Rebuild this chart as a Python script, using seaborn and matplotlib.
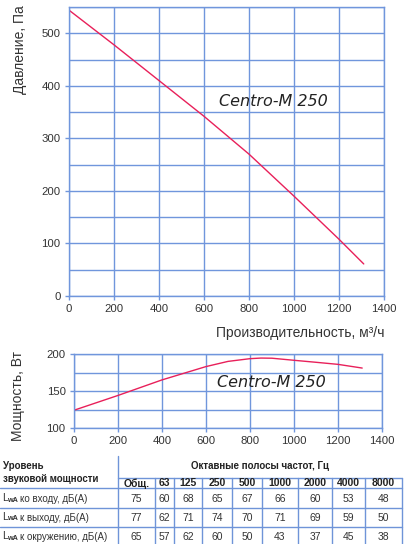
import numpy as np
import pandas as pd
import seaborn as sns
import matplotlib
matplotlib.use("Agg")
import matplotlib.pyplot as plt
from matplotlib.lines import Line2D

# ---------------- data ----------------
flow_p = [0, 200, 400, 600, 800, 1000, 1200, 1310]
pressure = [544, 478, 410, 342, 270, 190, 108, 61]

flow_w = [0, 200, 400, 600, 700, 800, 850, 900, 1000, 1100, 1200, 1310]
power = [124, 144, 165, 183, 190, 193.7, 194.5, 194.3, 191.5, 188.8, 186, 181]

model_name = "Centro-M 250"
x_label = "Производительность, м³/ч"
y_label_p = "Давление, Па"
y_label_w = "Мощность, Вт"

tbl_head_left = ["Уровень", "звуковой мощности"]
tbl_head_top = "Октавные полосы частот, Гц"
freq_labels = ["Общ.", "63", "125", "250", "500", "1000", "2000", "4000", "8000"]
row_labels = ["ко входу, дБ(А)", "к выходу, дБ(А)", "к окружению, дБ(А)"]
row_inlet = [75, 60, 68, 65, 67, 66, 60, 53, 48]
row_outlet = [77, 62, 71, 74, 70, 71, 69, 59, 50]
row_surround = [65, 57, 62, 60, 50, 43, 37, 45, 38]

# ---------------- style ----------------
sns.set_theme(style="white")
plt.rcParams["font.family"] = ["Liberation Sans", "DejaVu Sans"]

GRID = "#7096dc"
LINE = "#e8205a"
TXT = "#333333"

W, H = 409, 544
fig = plt.figure(figsize=(W / 100, H / 100), dpi=100)


def px_axes(left, top, right, bottom):
    return fig.add_axes([left / W, 1 - bottom / H, (right - left) / W, (bottom - top) / H])


def style_axes(ax, xmaj, ymaj, ymin_step):
    ax.set_xticks(xmaj)
    ax.set_yticks(ymaj)
    ax.set_yticks(ymin_step, minor=True)
    ax.grid(True, which="both", color=GRID, linewidth=1.0)
    ax.set_axisbelow(True)
    for s in ax.spines.values():
        s.set_color(GRID)
        s.set_linewidth(1.0)
    ax.tick_params(axis="both", which="major", length=3, width=1.0, color=GRID,
                   labelsize=8.2, labelcolor=TXT, pad=3, direction="out",
                   bottom=True, left=True)
    ax.tick_params(axis="both", which="minor", length=0)
    ax.set_xlabel("")
    ax.set_ylabel("")


# ---------------- top chart: pressure ----------------
ax1 = px_axes(69, 7, 384, 296)
dfp = pd.DataFrame({"flow": flow_p, "p": pressure})
sns.lineplot(data=dfp, x="flow", y="p", ax=ax1, color=LINE, linewidth=1.0)
ax1.set_xlim(0, 1400)
ax1.set_ylim(0, 550)
style_axes(ax1, np.arange(0, 1401, 200), np.arange(0, 501, 100), np.arange(50, 551, 100))
ax1.text(667, 370, model_name, fontsize=11.5, style="italic", color="#222222",
         family=["DejaVu Sans"], ha="left", va="center")

fig.text(384 / W, 1 - 333 / H, x_label, ha="right", va="center", fontsize=10, color=TXT)
fig.text(20 / W, 1 - 5 / H, y_label_p, ha="center", va="top", rotation=90, fontsize=10, color=TXT)

# ---------------- bottom chart: power ----------------
ax2 = px_axes(74, 354, 382, 428)
dfw = pd.DataFrame({"flow": flow_w, "w": power})
sns.lineplot(data=dfw, x="flow", y="w", ax=ax2, color=LINE, linewidth=1.0)
ax2.set_xlim(0, 1400)
ax2.set_ylim(100, 200)
style_axes(ax2, np.arange(0, 1401, 200), [100, 150, 200], [125, 175])
ax2.text(650, 162, model_name, fontsize=11.5, style="italic", color="#222222",
         family=["DejaVu Sans"], ha="left", va="center")
fig.text(18 / W, 1 - 396 / H, y_label_w, ha="center", va="center", rotation=90, fontsize=10, color=TXT)

# ---------------- table ----------------
axt = fig.add_axes([0, 0, 1, 1])
axt.set_xlim(0, W)
axt.set_ylim(H, 0)
axt.axis("off")
axt.patch.set_alpha(0)

cols = [118, 155, 174, 202, 232, 262, 298, 332, 365, 402]
TL = "#6f94d8"
axt.add_line(Line2D([118, 118], [456, 544], color=TL, lw=1.0))
for c in cols[1:]:
    axt.add_line(Line2D([c, c], [478, 544], color=TL, lw=1.0))
axt.add_line(Line2D([118, 402], [478, 478], color=TL, lw=1.0))
for yy in [488, 508, 527]:
    axt.add_line(Line2D([0, 402], [yy, yy], color=TL, lw=1.0))

axt.text(3, 466, tbl_head_left[0], fontsize=7, fontweight="bold", color="#222222", va="center", ha="left")
axt.text(3, 479, tbl_head_left[1], fontsize=7, fontweight="bold", color="#222222", va="center", ha="left")
axt.text((118 + 402) / 2, 466, tbl_head_top, fontsize=7, fontweight="bold", color="#222222",
         va="center", ha="center")
centers = [(cols[i] + cols[i + 1]) / 2 for i in range(len(cols) - 1)]
for cx, lab in zip(centers, freq_labels):
    axt.text(cx, 483.5, lab, fontsize=7.5, fontweight="bold", color="#222222", va="center", ha="center")

rows = [row_inlet, row_outlet, row_surround]
row_y = [499, 518, 537]
for ry, lab, vals in zip(row_y, row_labels, rows):
    axt.text(2.5, ry - 1, "L", fontsize=7.5, color=TXT, va="center", ha="left")
    axt.text(7.0, ry + 1.0, "wA", fontsize=5.2, fontweight="bold", color=TXT, va="center", ha="left")
    axt.text(20.5, ry, lab, fontsize=7, color=TXT, va="center", ha="left")
    for cx, v in zip(centers, vals):
        axt.text(cx, ry, str(v), fontsize=7.5, color=TXT, va="center", ha="center")

fig.savefig("out.png", dpi=100)
